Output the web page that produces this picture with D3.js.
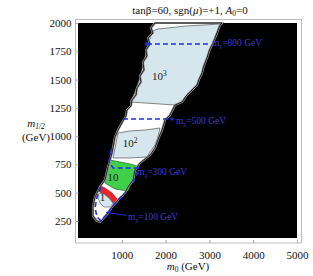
<!DOCTYPE html>
<html><head><meta charset="utf-8">
<script src="https://cdn.jsdelivr.net/npm/d3@7"></script>
<style>body{margin:0;background:#fff}svg{display:block}text{font-family:"Liberation Serif","Times New Roman",serif}</style>
</head><body>
<script>
// ---- data (m0 GeV, m1/2 GeV) ----
const xTicks = [1000, 2000, 3000, 4000, 5000];
const yTicks = [250, 500, 750, 1000, 1250, 1500, 1750, 2000];
const allowedRegion = [[1758,2000],[1667,1956],[1712,1912],[1598,1867],[1644,1814],[1552,1761],[1575,1708],[1484,1655],[1507,1585],[1415,1532],[1438,1479],[1347,1426],[1324,1364],[1233,1320],[1210,1267],[1119,1231],[1096,1178],[1027,1134],[913,1054],[845,993],[776,851],[685,727],[616,613],[502,551],[388,462],[342,374],[342,294],[434,250],[502,241],[571,268],[685,321],[776,374],[913,436],[1073,498],[1142,551],[1256,613],[1301,701],[1415,763],[1644,833],[1758,895],[1849,993],[1918,1054],[1986,1143],[2100,1187],[2215,1275],[2374,1302],[2488,1364],[2717,1452],[2760,1500],[2831,1558],[2870,1620],[2945,1691],[3000,1760],[3082,1823],[3242,1982],[3288,2000]];
const region1000 = [[1826,1947],[2055,1956],[2443,1973],[3242,1991],[3082,1823],[2945,1691],[2831,1558],[2717,1452],[2488,1364],[2374,1302],[2215,1275],[1872,1284],[1530,1293],[1187,1302],[1290,1380],[1400,1500],[1500,1650],[1590,1800],[1700,1929]];
const region100 = [[913,1028],[1187,1046],[1530,1054],[1872,1072],[1826,993],[1758,922],[1644,860],[1575,816],[1187,807],[799,807],[845,895]];
const region10 = [[731,789],[959,772],[1187,754],[1347,736],[1301,683],[1278,613],[1187,560],[1142,515],[845,533],[616,586],[662,683]];
const regionRed = [[479,568],[616,542],[776,498],[913,436],[845,400],[731,418],[616,462],[502,507]];
const region1 = [[479,498],[594,489],[708,453],[799,409],[753,374],[594,374],[502,409],[457,453]];
const contour800 = [[1575,1814],[2968,1814]];
const contour500 = [[1027,1152],[2146,1152]];
const contour300 = [[753,878],[708,772],[799,719],[1370,719],[1324,648],[1256,586]];
const contour100 = [[525,551],[434,462],[388,365],[434,286],[525,250],[662,312],[776,374],[913,436],[1073,498]];
const contourLabels = [{m:"800", at:[3059,1796]},{m:"500", at:[2237,1107]},{m:"300", at:[1347,657]},{m:"100", at:[1142,259]}];
const regionLabels = [{t:"10", sup:"3", at:[1860,1500]},{t:"10", sup:"2", at:[1190,905]},{t:"10", sup:"", at:[800,600]},{t:"1", sup:"", at:[560,430]}];

const W = 313, H = 276;
const svg = d3.select("body").append("svg").attr("width", W).attr("height", H);
const x = d3.scaleLinear().domain([0, 5000]).range([78, 297]);
const y = d3.scaleLinear().domain([100, 2000]).range([238, 23]);

// frame
svg.append("rect").attr("x", 75.5).attr("y", 19.5).attr("width", 226).attr("height", 223.5)
  .attr("fill", "#fff").attr("stroke", "#bbb").attr("stroke-width", 1);
svg.append("rect").attr("x", x(0)).attr("y", y(2000)).attr("width", x(5000) - x(0)).attr("height", y(100) - y(2000)).attr("fill", "#000");

const line = d3.line().x(d => x(d[0])).y(d => y(d[1]));
const poly = pts => line(pts) + "Z";

svg.append("path").attr("d", poly(allowedRegion)).attr("fill", "#fff");
svg.append("path").attr("d", poly(region1000)).attr("fill", "#d5e6ec").attr("stroke", "#555").attr("stroke-width", 0.7);
svg.append("path").attr("d", poly(region100)).attr("fill", "#d5e6ec").attr("stroke", "#555").attr("stroke-width", 0.7);
svg.append("path").attr("d", poly(region10)).attr("fill", "#3fcf4a").attr("stroke", "#1a6a1a").attr("stroke-width", 0.7);
svg.append("path").attr("d", poly(regionRed)).attr("fill", "#e8262a").attr("stroke", "#700").attr("stroke-width", 0.5);
svg.append("path").attr("d", poly(region1)).attr("fill", "#d5e6ec").attr("stroke", "#555").attr("stroke-width", 0.6);
svg.append("path").attr("d", poly(allowedRegion)).attr("fill", "none").attr("stroke", "#999").attr("stroke-width", 2.2);
svg.append("path").attr("d", poly(allowedRegion)).attr("fill", "none").attr("stroke", "#000").attr("stroke-width", 0.8);

// region labels
regionLabels.forEach(r => {
  const t = svg.append("text").attr("x", x(r.at[0])).attr("y", y(r.at[1])).attr("text-anchor", "middle")
    .attr("font-size", 11).attr("fill", "#222").text(r.t);
  if (r.sup) t.append("tspan").attr("dy", -4).attr("font-size", 7.5).text(r.sup);
});

// contours
const blue = "#1f2fe0";
[contour800, contour500, contour300, contour100].forEach(c => {
  svg.append("path").attr("d", line(c)).attr("fill", "none")
    .attr("stroke", blue).attr("stroke-width", 1.6).attr("stroke-dasharray", "5,3");
});
svg.append("circle").attr("cx", x(contour800[0][0])).attr("cy", y(contour800[0][1])).attr("r", 2).attr("fill", blue);
svg.append("circle").attr("cx", x(contour500[1][0])).attr("cy", y(contour500[1][1])).attr("r", 1.6).attr("fill", blue);
// arrow for 100 GeV
const a0 = [x(1100), y(300)], a1 = [x(640), y(325)];
svg.append("line").attr("x1", a0[0]).attr("y1", a0[1]).attr("x2", a1[0]).attr("y2", a1[1]).attr("stroke", blue).attr("stroke-width", 1);
svg.append("path").attr("d", `M${a1[0]},${a1[1]}l4,-2.5l-0.5,4z`).attr("fill", blue);

contourLabels.forEach(l => {
  const t = svg.append("text").attr("x", x(l.at[0])).attr("y", y(l.at[1])).attr("font-size", 9.5).attr("fill", "#3b3bd0");
  t.append("tspan").text("m");
  t.append("tspan").attr("dy", 2).attr("font-size", 6.5).text("χ");
  t.append("tspan").attr("dy", -2).text("=" + l.m + " GeV");
});

// axes (ticks inside frame)
const gx = svg.append("g").attr("transform", "translate(0,243)")
  .call(d3.axisBottom(x).tickValues(xTicks).tickSize(-3).tickPadding(6).tickFormat(d3.format("d")));
const gy = svg.append("g").attr("transform", "translate(75.5,0)")
  .call(d3.axisLeft(y).tickValues(yTicks).tickSize(-3).tickPadding(4).tickFormat(d3.format("d")));
[gx, gy].forEach(g => {
  g.select(".domain").remove();
  g.selectAll(".tick line").attr("stroke", "#aaa");
  g.selectAll("text").attr("font-size", 11).attr("fill", "#111").style("font-family", '"Liberation Serif",serif');
});
gx.selectAll("text").attr("dy", "0.9em");

// title
const tt = svg.append("text").attr("x", 190).attr("y", 14).attr("text-anchor", "middle").attr("font-size", 11).attr("fill", "#111");
tt.append("tspan").text("tanβ=60, sgn(");
tt.append("tspan").attr("font-style", "italic").text("μ");
tt.append("tspan").text(")=+1, ");
tt.append("tspan").attr("font-style", "italic").text("A");
tt.append("tspan").attr("dy", 2).attr("font-size", 7.5).text("0");
tt.append("tspan").attr("dy", -2).text("=0");

// axis titles
const xl = svg.append("text").attr("x", 188).attr("y", 270).attr("text-anchor", "middle").attr("font-size", 11).attr("fill", "#111");
xl.append("tspan").attr("font-style", "italic").text("m");
xl.append("tspan").attr("dy", 2).attr("font-size", 7.5).text("0");
xl.append("tspan").attr("dy", -2).text(" (GeV)");

const yl = svg.append("text").attr("x", 36).attr("y", 127).attr("text-anchor", "middle").attr("font-size", 11).attr("fill", "#111");
yl.append("tspan").attr("font-style", "italic").text("m");
yl.append("tspan").attr("dy", 2).attr("font-size", 7.5).attr("font-style", "italic").text("1/2");
svg.append("text").attr("x", 36).attr("y", 141).attr("text-anchor", "middle").attr("font-size", 11).attr("fill", "#111").text("(GeV)");
</script>
</body></html>
